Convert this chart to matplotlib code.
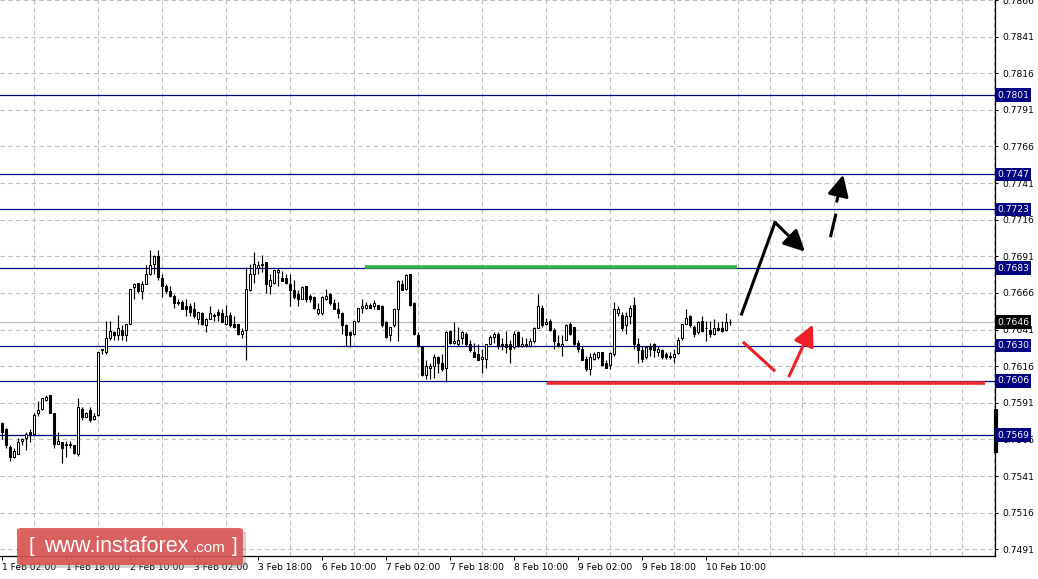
import matplotlib.pyplot as plt
import numpy as np
from matplotlib.patches import FancyBboxPatch

# H1 candles, 1 Feb 02:00 .. 10 Feb 14:00
opens = [
    0.7577, 0.7573, 0.7561, 0.7554, 0.7556, 0.7565, 0.7567, 0.7571, 0.7570, 0.7584,
    0.7587, 0.7593, 0.7596, 0.7584, 0.7563, 0.7564, 0.7562, 0.7562, 0.7562, 0.7556,
    0.7587, 0.7581, 0.7586, 0.7580, 0.7583, 0.7627, 0.7626, 0.7635, 0.7639, 0.7637,
    0.7641, 0.7637, 0.7645, 0.7670, 0.7673, 0.7667, 0.7672, 0.7679, 0.7686, 0.7691,
    0.7676, 0.7671, 0.7667, 0.7664, 0.7660, 0.7660, 0.7657, 0.7657, 0.7655, 0.7648,
    0.7652, 0.7644, 0.7648, 0.7651, 0.7653, 0.7652, 0.7645, 0.7651, 0.7645, 0.7645,
    0.7638, 0.7641, 0.7668, 0.7679, 0.7683, 0.7685, 0.7687, 0.7671, 0.7673, 0.7680,
    0.7676, 0.7676, 0.7672, 0.7668, 0.7665, 0.7662, 0.7671, 0.7664, 0.7663, 0.7652,
    0.7652, 0.7662, 0.7665, 0.7659, 0.7655, 0.7652, 0.7644, 0.7639, 0.7638, 0.7647,
    0.7656, 0.7656, 0.7658, 0.7657, 0.7658, 0.7657, 0.7646, 0.7637, 0.7644, 0.7655,
    0.7672, 0.7669, 0.7679, 0.7659, 0.7637, 0.7629, 0.7610, 0.7615, 0.7616, 0.7622,
    0.7618, 0.7615, 0.7640, 0.7632, 0.7631, 0.7635, 0.7638, 0.7631, 0.7626, 0.7624,
    0.7621, 0.7621, 0.7631, 0.7636, 0.7638, 0.7631, 0.7631, 0.7631, 0.7629, 0.7639,
    0.7630, 0.7631, 0.7630, 0.7633, 0.7642, 0.7656, 0.7645, 0.7647, 0.7641, 0.7632,
    0.7630, 0.7634, 0.7645, 0.7643, 0.7632, 0.7628, 0.7621, 0.7614, 0.7621, 0.7622,
    0.7626, 0.7618, 0.7617, 0.7624, 0.7652, 0.7651, 0.7644, 0.7650, 0.7658, 0.7631,
    0.7627, 0.7622, 0.7630, 0.7631, 0.7626, 0.7627, 0.7624, 0.7623, 0.7622, 0.7625,
    0.7635, 0.7645, 0.7650, 0.7643, 0.7639, 0.7647, 0.7642, 0.7641, 0.7638, 0.7642,
    0.7642, 0.7641, 0.7646,
]
highs = [
    0.7578, 0.7574, 0.7562, 0.7560, 0.7567, 0.7567, 0.7571, 0.7573, 0.7584, 0.7592,
    0.7594, 0.7596, 0.7596, 0.7584, 0.7571, 0.7564, 0.7565, 0.7565, 0.7562, 0.7594,
    0.7588, 0.7585, 0.7588, 0.7584, 0.7626, 0.7628, 0.7647, 0.7647, 0.7640, 0.7651,
    0.7644, 0.7645, 0.7669, 0.7673, 0.7673, 0.7674, 0.7685, 0.7695, 0.7692, 0.7695,
    0.7679, 0.7672, 0.7671, 0.7665, 0.7662, 0.7661, 0.7662, 0.7659, 0.7660, 0.7653,
    0.7653, 0.7649, 0.7657, 0.7652, 0.7655, 0.7655, 0.7658, 0.7653, 0.7650, 0.7645,
    0.7642, 0.7684, 0.7686, 0.7694, 0.7688, 0.7692, 0.7687, 0.7679, 0.7682, 0.7683,
    0.7681, 0.7679, 0.7679, 0.7675, 0.7668, 0.7671, 0.7671, 0.7665, 0.7664, 0.7659,
    0.7664, 0.7669, 0.7666, 0.7662, 0.7660, 0.7653, 0.7645, 0.7640, 0.7647, 0.7656,
    0.7662, 0.7660, 0.7659, 0.7661, 0.7658, 0.7658, 0.7647, 0.7643, 0.7656, 0.7675,
    0.7675, 0.7679, 0.7679, 0.7660, 0.7639, 0.7630, 0.7620, 0.7618, 0.7624, 0.7623,
    0.7624, 0.7640, 0.7641, 0.7646, 0.7643, 0.7640, 0.7639, 0.7634, 0.7632, 0.7631,
    0.7628, 0.7631, 0.7637, 0.7639, 0.7639, 0.7635, 0.7640, 0.7634, 0.7640, 0.7640,
    0.7636, 0.7635, 0.7635, 0.7643, 0.7665, 0.7658, 0.7649, 0.7648, 0.7642, 0.7637,
    0.7637, 0.7645, 0.7646, 0.7643, 0.7634, 0.7630, 0.7623, 0.7625, 0.7626, 0.7626,
    0.7626, 0.7620, 0.7626, 0.7660, 0.7657, 0.7653, 0.7653, 0.7658, 0.7663, 0.7635,
    0.7630, 0.7630, 0.7632, 0.7632, 0.7630, 0.7628, 0.7626, 0.7626, 0.7628, 0.7636,
    0.7645, 0.7655, 0.7651, 0.7644, 0.7647, 0.7650, 0.7647, 0.7647, 0.7648, 0.7646,
    0.7647, 0.7652, 0.7648,
]
lows = [
    0.7566, 0.7560, 0.7551, 0.7553, 0.7556, 0.7562, 0.7559, 0.7564, 0.7570, 0.7582,
    0.7586, 0.7592, 0.7584, 0.7560, 0.7563, 0.7550, 0.7554, 0.7560, 0.7556, 0.7555,
    0.7579, 0.7581, 0.7578, 0.7579, 0.7582, 0.7624, 0.7624, 0.7634, 0.7634, 0.7634,
    0.7634, 0.7633, 0.7645, 0.7662, 0.7666, 0.7662, 0.7672, 0.7678, 0.7679, 0.7675,
    0.7663, 0.7666, 0.7663, 0.7656, 0.7658, 0.7655, 0.7650, 0.7650, 0.7649, 0.7645,
    0.7644, 0.7639, 0.7648, 0.7647, 0.7647, 0.7646, 0.7644, 0.7643, 0.7642, 0.7637,
    0.7635, 0.7620, 0.7667, 0.7673, 0.7679, 0.7680, 0.7666, 0.7665, 0.7672, 0.7671,
    0.7674, 0.7672, 0.7657, 0.7662, 0.7657, 0.7662, 0.7660, 0.7660, 0.7655, 0.7651,
    0.7651, 0.7661, 0.7658, 0.7655, 0.7649, 0.7638, 0.7630, 0.7629, 0.7637, 0.7646,
    0.7652, 0.7655, 0.7656, 0.7655, 0.7655, 0.7643, 0.7635, 0.7633, 0.7643, 0.7633,
    0.7668, 0.7668, 0.7657, 0.7637, 0.7629, 0.7609, 0.7607, 0.7607, 0.7608, 0.7611,
    0.7613, 0.7605, 0.7631, 0.7631, 0.7630, 0.7631, 0.7630, 0.7626, 0.7622, 0.7620,
    0.7611, 0.7615, 0.7631, 0.7632, 0.7628, 0.7627, 0.7625, 0.7618, 0.7628, 0.7629,
    0.7629, 0.7629, 0.7629, 0.7632, 0.7642, 0.7643, 0.7644, 0.7640, 0.7628, 0.7629,
    0.7623, 0.7634, 0.7637, 0.7630, 0.7626, 0.7620, 0.7613, 0.7610, 0.7620, 0.7621,
    0.7616, 0.7615, 0.7614, 0.7623, 0.7650, 0.7640, 0.7638, 0.7645, 0.7628, 0.7618,
    0.7619, 0.7621, 0.7623, 0.7622, 0.7623, 0.7621, 0.7621, 0.7621, 0.7618, 0.7624,
    0.7634, 0.7645, 0.7643, 0.7636, 0.7638, 0.7639, 0.7633, 0.7636, 0.7637, 0.7640,
    0.7639, 0.7640, 0.7644,
]
closes = [
    0.7571, 0.7562, 0.7554, 0.7558, 0.7564, 0.7566, 0.7570, 0.7570, 0.7583, 0.7586,
    0.7594, 0.7595, 0.7584, 0.7563, 0.7565, 0.7560, 0.7563, 0.7563, 0.7557, 0.7588,
    0.7581, 0.7584, 0.7579, 0.7582, 0.7626, 0.7628, 0.7635, 0.7640, 0.7637, 0.7642,
    0.7637, 0.7645, 0.7669, 0.7672, 0.7667, 0.7672, 0.7679, 0.7685, 0.7691, 0.7677,
    0.7671, 0.7667, 0.7664, 0.7659, 0.7659, 0.7655, 0.7655, 0.7653, 0.7650, 0.7653,
    0.7645, 0.7648, 0.7652, 0.7650, 0.7651, 0.7646, 0.7650, 0.7644, 0.7643, 0.7638,
    0.7640, 0.7669, 0.7679, 0.7686, 0.7685, 0.7686, 0.7672, 0.7675, 0.7682, 0.7682,
    0.7674, 0.7673, 0.7668, 0.7663, 0.7662, 0.7670, 0.7662, 0.7662, 0.7656, 0.7655,
    0.7663, 0.7664, 0.7659, 0.7655, 0.7652, 0.7644, 0.7637, 0.7637, 0.7647, 0.7656,
    0.7657, 0.7658, 0.7656, 0.7659, 0.7655, 0.7644, 0.7636, 0.7643, 0.7655, 0.7674,
    0.7668, 0.7678, 0.7658, 0.7638, 0.7630, 0.7610, 0.7616, 0.7616, 0.7622, 0.7618,
    0.7614, 0.7639, 0.7632, 0.7633, 0.7634, 0.7639, 0.7631, 0.7627, 0.7622, 0.7620,
    0.7622, 0.7631, 0.7636, 0.7638, 0.7630, 0.7630, 0.7629, 0.7628, 0.7638, 0.7630,
    0.7631, 0.7630, 0.7633, 0.7642, 0.7657, 0.7644, 0.7646, 0.7641, 0.7633, 0.7630,
    0.7631, 0.7644, 0.7638, 0.7631, 0.7628, 0.7620, 0.7614, 0.7622, 0.7624, 0.7626,
    0.7617, 0.7615, 0.7625, 0.7655, 0.7655, 0.7642, 0.7650, 0.7656, 0.7631, 0.7627,
    0.7621, 0.7629, 0.7628, 0.7627, 0.7628, 0.7622, 0.7622, 0.7622, 0.7624, 0.7634,
    0.7645, 0.7649, 0.7644, 0.7638, 0.7646, 0.7640, 0.7642, 0.7638, 0.7642, 0.7641,
    0.7640, 0.7646, 0.7646,
]

time_labels = ["1 Feb 02:00", "1 Feb 18:00", "2 Feb 10:00", "3 Feb 02:00",
               "3 Feb 18:00", "6 Feb 10:00", "7 Feb 02:00", "7 Feb 18:00",
               "8 Feb 10:00", "9 Feb 02:00", "9 Feb 18:00", "10 Feb 10:00"]
price_ticks = [0.7491, 0.7516, 0.7541, 0.7566, 0.7591, 0.7616, 0.7641, 0.7666,
               0.7691, 0.7716, 0.7741, 0.7766, 0.7791, 0.7816, 0.7841, 0.7866]
levels = [0.7801, 0.7747, 0.7723, 0.7683, 0.7630, 0.7606, 0.7569]
last_price = 0.7646

# drawn on the chart: resistance / support lines and forecast arrows (bar index, price)
green_line = ([90.75, 183.75], [0.7684, 0.7684])
red_line = ([136.25, 245.75], [0.76045, 0.76045])
black_leg = ([184.9, 193.25], [0.76516, 0.77141])
black_arrow = ((193.25, 0.77141), (200.75, 0.76942))
dash_leg = ([207.2, 208.4], [0.77051, 0.77191])
dash_arrow = ((208.7, 0.77286), (210.3, 0.77467))
red_leg = ([185.5, 193.0], [0.76319, 0.76132])
red_arrow = ((196.8, 0.76093), (202.7, 0.76444))

NAVY = "#000080"
GRID = "#c0c0c0"

plt.rcParams["font.family"] = "DejaVu Sans"

fig = plt.figure(figsize=(10.38, 5.79), dpi=100)
ax = fig.add_axes([0, 23 / 579, 995 / 1038, 556 / 579])
ax.set_xlim(-0.5, 248.25)
ax.set_ylim(0.74864, 0.78640)

# grid
ax.set_xticks(range(0, 249, 8), minor=True)
ax.set_xticks(range(0, 16 * len(time_labels), 16))
ax.set_xticklabels(time_labels, ha="left")
ax.set_yticks(price_ticks)
ax.set_yticklabels([f"{p:.4f}" for p in price_ticks])
ax.grid(True, axis="x", which="minor", color=GRID, lw=0.8, ls=(0, (4, 3)))
ax.grid(True, axis="y", which="major", color=GRID, lw=0.8, ls=(0, (4, 3)))
ax.set_axisbelow(True)

ax.yaxis.tick_right()
ax.tick_params(axis="y", length=2.5, width=0.7, pad=3, labelsize=6.6)
ax.tick_params(axis="x", which="major", length=3, width=0.7, pad=2, labelsize=6.6)
ax.tick_params(axis="x", which="minor", length=0)
for side in ["left", "top"]:
    ax.spines[side].set_visible(False)
for side in ["right", "bottom"]:
    ax.spines[side].set_linewidth(0.9)

# levels
ax.axhline(last_price, color="#c0c0c0", lw=0.9, zorder=1)
for lv in levels:
    ax.axhline(lv, color=NAVY, lw=0.9, zorder=2)

ytrans = ax.get_yaxis_transform()
for lv in levels:
    ax.text(1.002, lv, f"{lv:.4f}", transform=ytrans, ha="left", va="center",
            color="white", fontsize=6.6, clip_on=False, zorder=6,
            bbox=dict(boxstyle="square,pad=0.25", fc=NAVY, ec="none"))
ax.text(1.002, last_price, f"{last_price:.4f}", transform=ytrans, ha="left",
        va="center", color="white", fontsize=6.6, clip_on=False, zorder=6,
        bbox=dict(boxstyle="square,pad=0.25", fc="black", ec="none"))
# price range marker on the scale
ax.plot([1.001, 1.001], [0.7557, 0.7587], transform=ytrans, color="black",
        lw=3, clip_on=False, solid_capstyle="butt")

# candles
o = np.array(opens)
c = np.array(closes)
idx = np.arange(len(o))
up = c >= o
ax.vlines(idx, lows, highs, color="black", lw=0.85, zorder=3)
ax.bar(idx, np.abs(c - o), bottom=np.minimum(o, c), width=0.7,
       color=np.where(up, "white", "black"), edgecolor="black", linewidth=0.75,
       zorder=4)

# drawn lines
ax.plot(*green_line, color="#37b24a", lw=2.6, solid_capstyle="butt", zorder=5)
ax.plot(*red_line, color="#ec2a30", lw=2.6, solid_capstyle="butt", zorder=5)

arrow_kw = dict(arrowstyle="-|>,head_length=0.8,head_width=0.4",
                mutation_scale=16, lw=2.2, shrinkA=0, shrinkB=0)
ax.plot(*black_leg, color="black", lw=2.2, zorder=5)
ax.annotate("", xy=black_arrow[1], xytext=black_arrow[0],
            arrowprops=dict(color="black", **arrow_kw), zorder=5)
ax.plot(*dash_leg, color="black", lw=2.2, zorder=5)
ax.annotate("", xy=dash_arrow[1], xytext=dash_arrow[0],
            arrowprops=dict(color="black", **arrow_kw), zorder=5)
ax.plot(*red_leg, color="#ee2027", lw=2.2, zorder=5)
ax.annotate("", xy=red_arrow[1], xytext=red_arrow[0],
            arrowprops=dict(color="#ee2027", **arrow_kw), zorder=5)

# logo
W, H = 1038, 579
shadow = FancyBboxPatch((20 / W, (H - 568) / H), 226 / W, 37 / H,
                        boxstyle="round,pad=0,rounding_size=0.004",
                        transform=fig.transFigure, fc="#808080", ec="none",
                        alpha=0.35, zorder=10)
logo = FancyBboxPatch((17 / W, (H - 565) / H), 226 / W, 37 / H,
                      boxstyle="round,pad=0,rounding_size=0.004",
                      transform=fig.transFigure, fc="#d9534f", ec="none",
                      alpha=0.88, zorder=11)
fig.patches.extend([shadow, logo])
ty = (H - 547) / H
fig.text(29 / W, ty, "[", color="white", fontsize=15, va="center",
         family="Liberation Sans", zorder=12)
fig.text(44 / W, ty, "www.instaforex", color="white", fontsize=15.5,
         va="center", family="Liberation Sans", zorder=12)
fig.text(193 / W, ty - 0.002, ".com", color="white", fontsize=11,
         va="center", family="Liberation Sans", zorder=12)
fig.text(232 / W, ty, "]", color="white", fontsize=15, va="center",
         family="Liberation Sans", zorder=12)

fig.savefig("out.png", dpi=100, facecolor="white")
